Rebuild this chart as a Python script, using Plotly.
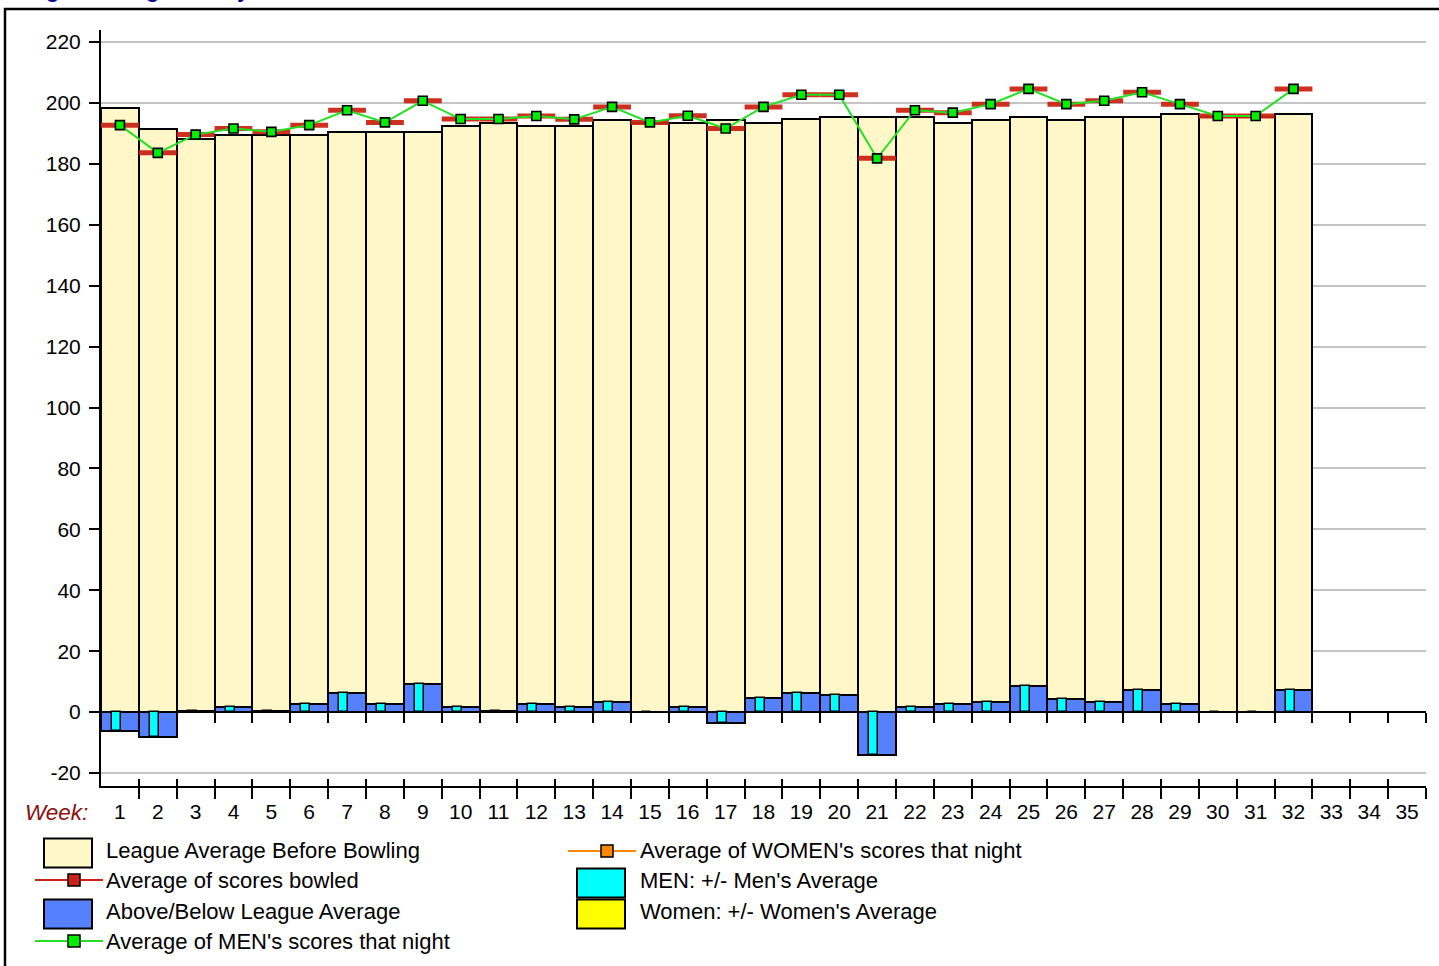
import plotly.graph_objects as go

# ---------------- data ----------------
weeks = list(range(1, 36))
week_labels = [str(w) for w in weeks]
played = weeks[:32]

league_avg = [198.3, 191.3, 188.3, 189.4, 189.4, 189.4, 190.5, 190.5, 190.5, 192.5,
              193.3, 192.4, 192.4, 194.4, 193.5, 193.5, 194.5, 193.5, 194.6, 195.4,
              195.4, 195.4, 193.3, 194.4, 195.4, 194.4, 195.4, 195.4, 196.5, 195.5,
              195.5, 196.5]

scores_avg = [192.7, 183.6, 189.6, 191.6, 190.5, 192.7, 197.6, 193.6, 200.7, 194.7,
              194.7, 195.7, 194.6, 198.7, 193.6, 195.8, 191.6, 198.7, 202.7, 202.7,
              181.8, 197.6, 196.8, 199.6, 204.6, 199.6, 200.7, 203.5, 199.6, 195.7,
              195.7, 204.6]

men_avg = [192.7, 183.6, 189.6, 191.6, 190.5, 192.7, 197.6, 193.6, 200.7, 194.7,
           194.7, 195.7, 194.6, 198.7, 193.6, 195.8, 191.6, 198.7, 202.7, 202.7,
           181.8, 197.6, 196.8, 199.6, 204.6, 199.6, 200.7, 203.5, 199.6, 195.7,
           195.7, 204.6]

above_below = [-6.2, -8.3, 0.5, 1.6, 0.5, 2.5, 6.4, 2.5, 9.3, 1.6,
               0.5, 2.5, 1.6, 3.4, 0.0, 1.6, -3.5, 4.5, 6.2, 5.6,
               -14.2, 1.6, 2.5, 3.4, 8.4, 4.4, 3.4, 7.3, 2.6, 0.0,
               0.0, 7.3]

men_pm = [-6.2, -8.3, 0.5, 1.6, 0.5, 2.5, 6.4, 2.5, 9.3, 1.6,
          0.5, 2.5, 1.6, 3.4, 0.0, 1.6, -3.5, 4.5, 6.2, 5.6,
          -14.2, 1.6, 2.5, 3.4, 8.4, 4.4, 3.4, 7.3, 2.6, 0.0,
          0.0, 7.3]

y_ticks = list(range(-20, 221, 20))
y_tick_labels = [str(v) for v in y_ticks]

series_names = ["League Average Before Bowling", "Average of scores bowled",
                "Above/Below League Average", "Average of MEN's scores that night",
                "Average of WOMEN's scores that night", "MEN: +/- Men's Average",
                "Women: +/- Women's Average"]

# ---------------- styles ----------------
CREAM = "rgb(255,247,200)"
BLUE = "rgb(85,128,255)"
CYAN = "rgb(0,255,255)"
YELLOW = "rgb(255,255,0)"
RED = "rgb(204,36,20)"
GREEN = "rgb(34,225,34)"
GREEN_M = "rgb(0,238,0)"
ORANGE = "rgb(255,136,0)"
FONT = "Arial, Liberation Sans, Helvetica, sans-serif"

YMIN, YMAX = -24.27, 223.94
L, T, W, H = 101, 30, 1325, 756
FIG_W, FIG_H = 1439, 966


def px(x):
    return (x - L) / W


def py(y):
    return 1 - (y - T) / H


fig = go.Figure()

fig.add_trace(go.Bar(x=played, y=league_avg, width=1, name=series_names[0],
                     marker=dict(color=CREAM, line=dict(color="black", width=2)),
                     showlegend=False))
fig.add_trace(go.Bar(x=played, y=above_below, width=1, name=series_names[2],
                     marker=dict(color=BLUE, line=dict(color="black", width=2)),
                     showlegend=False))
fig.add_trace(go.Bar(x=played, y=men_pm, width=0.24, offset=-0.21, name=series_names[5],
                     marker=dict(color=CYAN, line=dict(color="black", width=1.5)),
                     showlegend=False))
fig.add_trace(go.Scatter(x=played, y=scores_avg, mode="markers", name=series_names[1],
                         marker=dict(symbol="line-ew", size=27,
                                     line=dict(color=RED, width=5)),
                         opacity=0.95, showlegend=False))
fig.add_trace(go.Scatter(x=played, y=men_avg, mode="lines+markers", name=series_names[3],
                         line=dict(color=GREEN, width=2),
                         marker=dict(symbol="square", size=9, color=GREEN_M,
                                     line=dict(color="black", width=1.6)),
                         showlegend=False))

# helper traces so overlaid axes render
for ax in ["x2", "x3", "x4"]:
    fig.add_trace(go.Scatter(x=weeks, y=[None] * len(weeks), xaxis=ax, yaxis="y",
                             mode="lines", showlegend=False, hoverinfo="skip"))

half = [w + 0.5 for w in weeks]
blank = [""] * len(half)
pos0 = (0 - YMIN) / (YMAX - YMIN)

fig.update_layout(
    width=FIG_W, height=FIG_H,
    margin=dict(l=L, r=FIG_W - L - W, t=T, b=FIG_H - T - H),
    paper_bgcolor="white", plot_bgcolor="white",
    barmode="overlay", bargap=0,
    font=dict(family=FONT, size=21, color="black"),
    showlegend=False,
    xaxis=dict(range=[0.5, 35.5], tickmode="array", tickvals=half, ticktext=blank,
               ticks="outside", ticklen=11, tickwidth=2, tickcolor="black",
               showline=True, linecolor="black", linewidth=2,
               showgrid=False, zeroline=False, anchor="y"),
    xaxis2=dict(range=[0.5, 35.5], overlaying="x", anchor="y", side="bottom",
                tickmode="array", tickvals=weeks, ticktext=week_labels,
                ticks="outside", ticklen=7, tickcolor="rgba(0,0,0,0)",
                showline=False, showgrid=False, zeroline=False,
                tickfont=dict(size=21, color="black")),
    xaxis3=dict(range=[0.5, 35.5], overlaying="x", anchor="y", side="bottom",
                tickmode="array", tickvals=half, ticktext=blank,
                ticks="inside", ticklen=7, tickwidth=2, tickcolor="black",
                showline=False, showgrid=False, zeroline=False),
    xaxis4=dict(range=[0.5, 35.5], overlaying="x", anchor="free", position=pos0,
                side="bottom", tickmode="array", tickvals=half, ticktext=blank,
                ticks="outside", ticklen=10, tickwidth=2, tickcolor="black",
                showline=True, linecolor="black", linewidth=2,
                showgrid=False, zeroline=False, layer="below traces"),
    yaxis=dict(range=[YMIN, YMAX], tickmode="array", tickvals=y_ticks,
               ticktext=y_tick_labels, ticklabelstandoff=4,
               ticks="outside", ticklen=10, tickwidth=2, tickcolor="black",
               showline=True, linecolor="black", linewidth=2,
               showgrid=True, gridcolor="rgb(196,196,196)", gridwidth=2,
               zeroline=False, tickfont=dict(size=21, color="black")),
)

shapes = []
annotations = []

# outer frame (left and top edges visible)
shapes.append(dict(type="path", xref="paper", yref="paper",
                   path=f"M {px(5)},{py(990)} L {px(5)},{py(9)} L {px(1460)},{py(9)}",
                   line=dict(color="black", width=2.5)))

# partially visible title
annotations.append(dict(text="<b>League Average History</b>", xref="paper", yref="paper",
                        x=px(8), y=py(4), xanchor="left", yanchor="bottom",
                        showarrow=False, font=dict(size=21, color="rgb(0,0,150)")))

# Week: label
annotations.append(dict(text="<i>Week:</i>", xref="paper", yref="paper",
                        x=px(23), y=py(812), xanchor="left", yanchor="middle",
                        showarrow=False, font=dict(size=22.5, color="rgb(140,16,16)")))

# ---------------- manual legend ----------------
legend_spec = [
    (series_names[0], "box", CREAM, None, 44, 853, 106, 850),
    (series_names[1], "line", RED, RED, 35, 880, 106, 880),
    (series_names[2], "box", BLUE, None, 44, 914, 106, 911),
    (series_names[3], "line", GREEN, GREEN_M, 35, 941, 106, 941),
    (series_names[4], "line", ORANGE, ORANGE, 568, 851, 640, 850),
    (series_names[5], "box", CYAN, None, 577, 883, 640, 880),
    (series_names[6], "box", YELLOW, None, 577, 914, 640, 911),
]
for name, kind, col, mcol, x0, yc, tx, ty in legend_spec:
    if kind == "box":
        shapes.append(dict(type="rect", xref="paper", yref="paper",
                           x0=px(x0), x1=px(x0 + 48), y0=py(yc - 14.5), y1=py(yc + 14.5),
                           fillcolor=col, line=dict(color="black", width=2)))
    else:
        shapes.append(dict(type="line", xref="paper", yref="paper",
                           x0=px(x0), x1=px(x0 + 68), y0=py(yc), y1=py(yc),
                           line=dict(color=col, width=2)))
        mx = x0 + 39
        shapes.append(dict(type="rect", xref="paper", yref="paper",
                           x0=px(mx - 6), x1=px(mx + 6), y0=py(yc - 6), y1=py(yc + 6),
                           fillcolor=mcol, line=dict(color="black", width=1.5)))
    annotations.append(dict(text=name, xref="paper", yref="paper",
                            x=px(tx - 2), y=py(ty),
                            xanchor="left", yanchor="middle", showarrow=False,
                            font=dict(size=22, color="black")))

fig.update_layout(shapes=shapes, annotations=annotations)

fig.write_html("out.html", config={"displayModeBar": False},
               post_script="document.body.style.margin='0';")
